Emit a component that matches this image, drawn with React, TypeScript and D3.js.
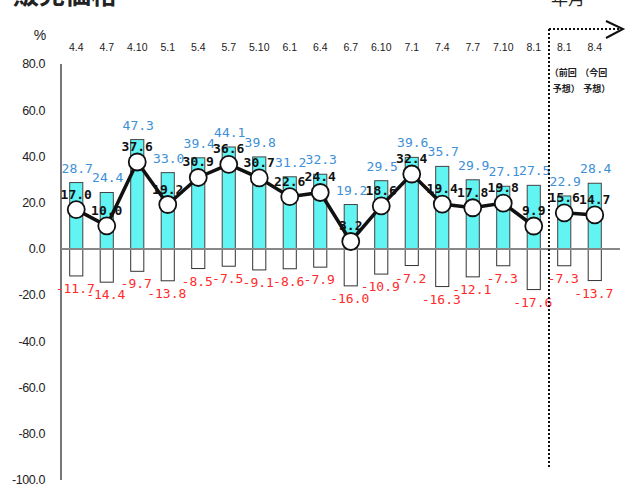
import React from "react";
import * as d3 from "d3";

const categories = ["4.4","4.7","4.10","5.1","5.4","5.7","5.10","6.1","6.4","6.7","6.10","7.1","7.4","7.7","7.10","8.1","8.1","8.4"];
const isForecast = [false,false,false,false,false,false,false,false,false,false,false,false,false,false,false,false,true,true];
const risePct = [28.7,24.4,47.3,33.0,39.4,44.1,39.8,31.2,32.3,19.2,29.5,39.6,35.7,29.9,27.1,27.5,22.9,28.4];
const fallPct = [-11.7,-14.4,-9.7,-13.8,-8.5,-7.5,-9.1,-8.6,-7.9,-16.0,-10.9,-7.2,-16.3,-12.1,-7.3,-17.6,-7.3,-13.7];
const diValues = [17.0,10.0,37.6,19.2,30.9,36.6,30.7,22.6,24.4,3.2,18.6,32.4,19.4,17.8,19.8,9.9,15.6,14.7];
const yTicks = [80,60,40,20,0,-20,-40,-60,-80,-100];
const forecastNotes = ["（前回", "（今回"];
const forecastNotes2 = ["予想）", "予想）"];

const W = 629, H = 490;

export default function App() {
  const idx = categories.map((_, i) => i);
  const x = d3.scaleBand<number>().domain(idx).range([61, 610]).paddingInner(0.57).paddingOuter(0.285);
  const y = d3.scaleLinear().domain([-100, 80]).range([480, 64]);
  const cx = (i: number) => (x(i) as number) + x.bandwidth() / 2;

  const line = d3.line<number>().x((i) => cx(i)).y((i) => y(diValues[i]));
  const hist = idx.filter((i) => !isForecast[i]);
  const fore = idx.filter((i) => isForecast[i]);
  const dividerX = (cx(hist[hist.length - 1]) + cx(fore[0])) / 2;

  const mono = "'DejaVu Sans Mono', monospace";
  const sans = "'Liberation Sans', Arial, sans-serif";
  const cjk = "'Noto Sans CJK JP', sans-serif";

  return (
    <svg width={W} height={H} style={{ position: "absolute", left: 0, top: 0, background: "#fff" }}>
      {/* title */}
      <text x={13} y={4} fontFamily={cjk} fontWeight="bold" fontSize={26} fill="#222">販売価格</text>
      <text x={551} y={5} fontFamily={cjk} fontSize={17} fill="#222">年月</text>
      <text x={40} y={40} fontFamily={sans} fontSize={14} textAnchor="middle" fill="#222">%</text>

      {/* y axis */}
      <line x1={61} x2={61} y1={y(80)} y2={y(-100)} stroke="#777" strokeWidth={2} />
      {yTicks.map((t) => (
        <text key={t} x={45} y={y(t)} dy="0.35em" textAnchor="end" fontFamily={sans} fontSize={12.5} letterSpacing={-0.4} fill="#222">
          {t.toFixed(1)}
        </text>
      ))}

      {/* category labels */}
      {categories.map((c, i) => (
        <text key={"c" + i} x={cx(i)} y={51} textAnchor="middle" fontFamily={sans} fontSize={10.5} fill="#222">{c}</text>
      ))}
      {fore.map((i, k) => (
        <g key={"n" + i}>
          <text x={cx(i) - 1} y={76} textAnchor="middle" fontFamily={cjk} fontSize={9} fontWeight="bold" fill="#222">{forecastNotes[k]}</text>
          <text x={cx(i) + 2} y={92} textAnchor="middle" fontFamily={cjk} fontSize={9} fontWeight="bold" fill="#222">{forecastNotes2[k]}</text>
        </g>
      ))}

      {/* bars */}
      {idx.map((i) => (
        <g key={"b" + i}>
          <rect x={x(i)} y={y(risePct[i])} width={x.bandwidth()} height={y(0) - y(risePct[i])} fill="#62F3F3" stroke="#444" strokeWidth={1} />
          <rect x={x(i)} y={y(0)} width={x.bandwidth()} height={y(fallPct[i]) - y(0)} fill="#fff" stroke="#333" strokeWidth={1} />
        </g>
      ))}

      {/* zero line */}
      <line x1={61} x2={620} y1={y(0)} y2={y(0)} stroke="#888" strokeWidth={2} />

      {/* value labels */}
      {idx.map((i) => (
        <g key={"l" + i} fontFamily={mono} fontSize={13}>
          <text x={cx(i) + 1} y={y(risePct[i]) - 10} textAnchor="middle" fill="#3d8fd6">{risePct[i].toFixed(1)}</text>
          <text x={cx(i) - 1} y={y(fallPct[i]) + 17} textAnchor="middle" fill="#ff2a2a">{fallPct[i].toFixed(1)}</text>
          <text x={cx(i)} y={y(diValues[i]) - 11} textAnchor="middle" fill="#111" fontWeight="bold">{diValues[i].toFixed(1)}</text>
        </g>
      ))}

      {/* DI line */}
      <path d={line(hist) || ""} fill="none" stroke="#111" strokeWidth={3.5} />
      <path d={line(fore) || ""} fill="none" stroke="#111" strokeWidth={3.5} />
      {idx.map((i) => (
        <circle key={"p" + i} cx={cx(i)} cy={y(diValues[i])} r={8.5} fill="#fff" stroke="#111" strokeWidth={1.8} />
      ))}

      {/* forecast divider & arrow */}
      <line x1={dividerX} x2={dividerX} y1={29} y2={467} stroke="#111" strokeWidth={2} strokeDasharray="2 2" />
      <line x1={dividerX} x2={621} y1={29} y2={29} stroke="#111" strokeWidth={2} strokeDasharray="2 2" />
      <polyline points="606,21 623,29 606,38" fill="none" stroke="#111" strokeWidth={2} />
    </svg>
  );
}
